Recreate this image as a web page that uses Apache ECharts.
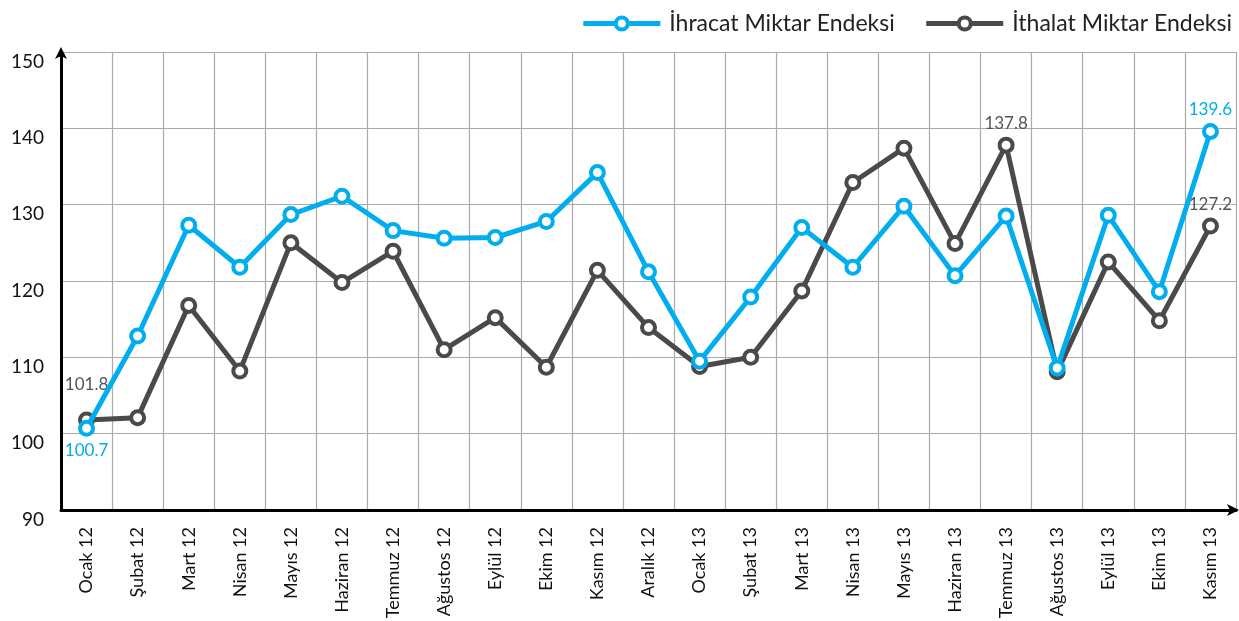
<!DOCTYPE html>
<html><head><meta charset="utf-8">
<script src="https://cdn.jsdelivr.net/npm/echarts@6/dist/echarts.min.js"></script>
<style>html,body{margin:0;padding:0;background:#fff}#c{width:1239px;height:621px}</style>
</head><body><div id="c"></div>
<script>
const categories = ["Ocak 12","Şubat 12","Mart 12","Nisan 12","Mayıs 12","Haziran 12","Temmuz 12","Ağustos 12","Eylül 12","Ekim 12","Kasım 12","Aralık 12","Ocak 13","Şubat 13","Mart 13","Nisan 13","Mayıs 13","Haziran 13","Temmuz 13","Ağustos 13","Eylül 13","Ekim 13","Kasım 13"];
const exportIndex = [100.7,112.8,127.3,121.8,128.7,131.1,126.6,125.6,125.7,127.8,134.2,121.2,109.5,117.9,127.0,121.8,129.8,120.7,128.5,108.6,128.6,118.6,139.6];
const importIndex = [101.8,102.1,116.8,108.2,125.0,119.8,123.9,111.0,115.2,108.7,121.4,113.9,108.8,110.0,118.7,132.9,137.4,124.9,137.8,108.1,122.5,114.8,127.2];
const exportLabeled = [0, 22];
const importLabeled = [0, 18, 22];
const yTicks = [90,100,110,120,130,140,150];

const BLUE = '#00AEEF', GRAY = '#4a4a4a';
const FONT = 'Lato';

function build(values, labeled, color, belowIdx, extraUp) {
  return values.map((v, i) => {
    if (!labeled.includes(i)) return v;
    const below = belowIdx.includes(i);
    return {
      value: v,
      label: {
        show: true,
        position: below ? 'bottom' : 'top',
        distance: below ? 5 : (extraUp.includes(i) ? 18 : 5),
        color: color === BLUE ? BLUE : '#555',
        fontSize: 17, fontFamily: FONT,
        formatter: (p) => p.value.toFixed(1)
      }
    };
  });
}

const chart = echarts.init(document.getElementById('c'));
chart.setOption({
  animation: false,
  backgroundColor: '#fff',
  textStyle: { fontFamily: FONT },
  legend: {
    top: 7, right: 2,
    itemWidth: 77, itemHeight: 15, itemGap: 29,
    lineStyle: { width: 5 },
    itemStyle: { borderWidth: 4 },
    textStyle: { fontSize: 23, color: '#222', fontFamily: FONT, padding: [0, 0, 0, 4] },
    data: ['İhracat Miktar Endeksi', 'İthalat Miktar Endeksi']
  },
  grid: { left: 61, right: 3, top: 52, bottom: 111, containLabel: false, outerBoundsMode: 'none' },
  xAxis: {
    type: 'category',
    data: categories,
    boundaryGap: true,
    axisLine: { show: true, lineStyle: { color: '#000', width: 3 }, symbol: ['none', 'arrow'], symbolSize: [9, 12], symbolOffset: [0, 3] },
    axisTick: { show: false },
    splitLine: { show: true, interval: 0, lineStyle: { color: '#aaa', width: 1.2 } },
    axisLabel: { rotate: 90, interval: 0, margin: 17, fontSize: 18, color: '#111', fontFamily: FONT }
  },
  yAxis: {
    type: 'value',
    min: yTicks[0], max: yTicks[yTicks.length - 1], interval: 10,
    axisLine: { show: true, lineStyle: { color: '#000', width: 3 }, symbol: ['none', 'arrow'], symbolSize: [9, 12], symbolOffset: [0, 5] },
    axisTick: { show: false },
    splitLine: { show: true, lineStyle: { color: '#aaa', width: 1.2 } },
    axisLabel: { margin: 17, fontSize: 19, color: '#111', fontFamily: FONT, verticalAlign: 'top' }
  },
  series: [
    {
      name: 'İhracat Miktar Endeksi', type: 'line',
      data: build(exportIndex, exportLabeled, BLUE, [0], []),
      symbol: 'circle', symbolSize: 13, z: 3,
      itemStyle: { color: '#fff', borderColor: BLUE, borderWidth: 4 },
      lineStyle: { color: BLUE, width: 5 },
      color: BLUE
    },
    {
      name: 'İthalat Miktar Endeksi', type: 'line',
      data: build(importIndex, importLabeled, GRAY, [], [0]),
      symbol: 'circle', symbolSize: 13, z: 2,
      itemStyle: { color: '#fff', borderColor: GRAY, borderWidth: 4 },
      lineStyle: { color: GRAY, width: 5 },
      color: GRAY
    }
  ]
});
</script></body></html>
